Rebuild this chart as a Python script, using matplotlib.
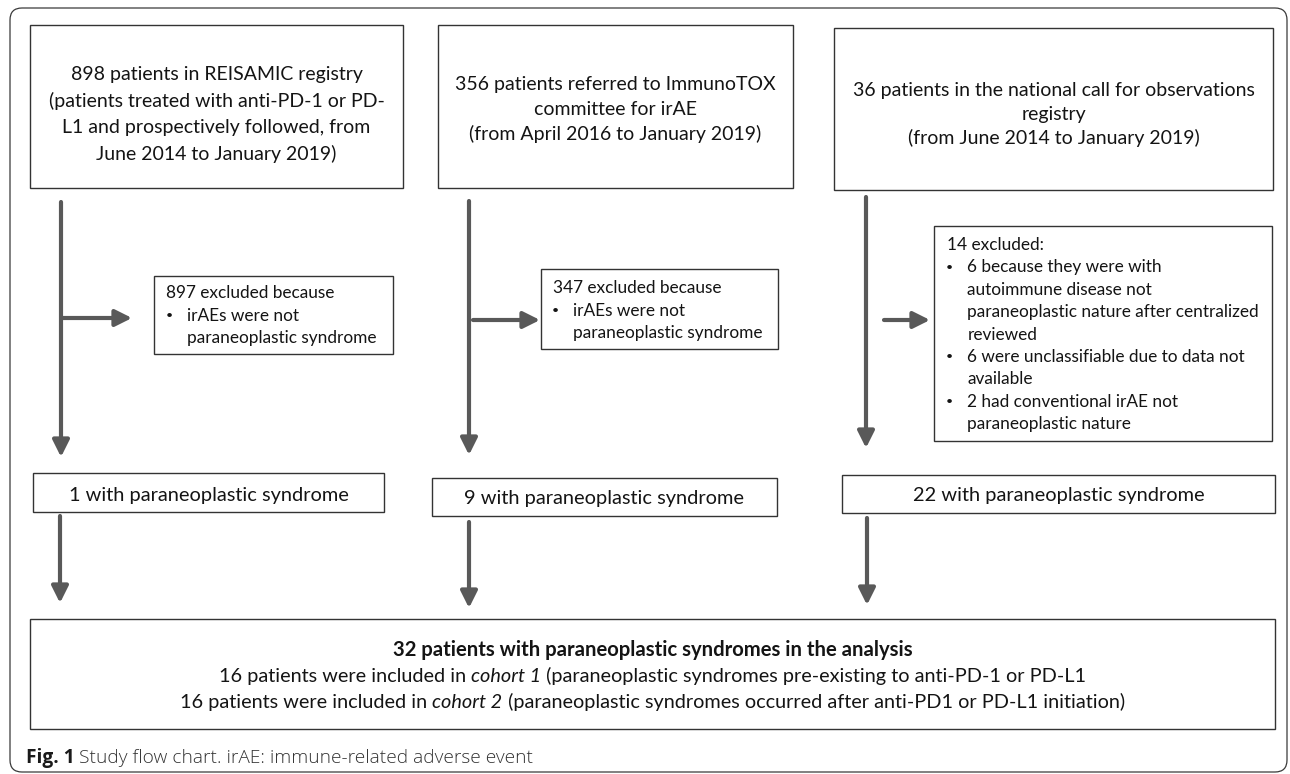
import matplotlib
matplotlib.use("Agg")
import matplotlib.pyplot as plt
from matplotlib.patches import Rectangle, FancyBboxPatch

# ---------------- content ----------------
source_texts = [
    ["898 patients in REISAMIC registry",
     "(patients treated with anti-PD-1 or PD-",
     "L1 and prospectively followed, from",
     "June 2014 to January 2019)"],
    ["356 patients referred to ImmunoTOX",
     "committee for irAE",
     "(from April 2016 to January 2019)"],
    ["36 patients in the national call for observations",
     "registry",
     "(from June 2014 to January 2019)"],
]
excluded_headers = ["897 excluded because", "347 excluded because", "14 excluded:"]
excluded_items = [
    [["irAEs were not", "paraneoplastic syndrome"]],
    [["irAEs were not", "paraneoplastic syndrome"]],
    [["6 because they were with", "autoimmune disease not",
      "paraneoplastic nature after centralized", "reviewed"],
     ["6 were unclassifiable due to data not", "available"],
     ["2 had conventional irAE not", "paraneoplastic nature"]],
]
retained_counts = [1, 9, 22]
retained_label = "with paraneoplastic syndrome"
total_title = "32 patients with paraneoplastic syndromes in the analysis"
cohort_lines = [
    [("16 patients were included in ", "normal"), ("cohort 1", "italic"),
     (" (paraneoplastic syndromes pre-existing to anti-PD-1 or PD-L1", "normal")],
    [("16 patients were included in ", "normal"), ("cohort 2", "italic"),
     (" (paraneoplastic syndromes occurred after anti-PD1 or PD-L1 initiation)", "normal")],
]
caption_bold = "Fig. 1"
caption_text = "Study flow chart. irAE: immune-related adverse event"

# ---------------- layout (pixel coordinates) ----------------
W, H = 1290, 774
frame = (10, 8, 1287, 772)
src_boxes = [(30, 25, 403, 188), (438, 25, 793, 188), (834, 28, 1273, 190)]
src_baselines = [[80, 106.7, 133.3, 160], [90, 115, 140], [96, 120, 144]]
excl_boxes = [(154, 276, 393, 354), (541, 269, 778, 349), (934, 226, 1272, 441)]
excl_first_baseline = [298.3, 293.3, 250]
excl_step = 22.4
excl_x = [(166, 169.5, 186.7), (552.7, 555.5, 573.3), (946.7, 949.5, 967.3)]
mid_boxes = [(33, 473, 384, 512), (432, 478, 777, 516), (842, 475, 1275, 513)]
mid_baselines = [500.7, 504.3, 501]
bottom_box = (30, 619, 1275, 729)
bottom_baselines = [656, 681.7, 707.7]
caption_pos = (26, 762.7)
vert_arrows = [(61, 202, 457), (469, 201, 455), (866, 197, 448)]
horz_arrows = [(318, 63, 132), (320, 473, 540), (320, 884, 930)]
down_arrows = [(60, 516, 603), (469, 522, 608), (867, 518, 605)]

FONT = "Lato"
CAPFONT = "Open Sans"
TXT = "#141414"
EDGE = "#333333"
ARROW = "#595959"

fig = plt.figure(figsize=(W / 100, H / 100), dpi=100)
fig.patch.set_facecolor("white")
ax = fig.add_axes([0, 0, 1, 1])
ax.set_xlim(0, W)
ax.set_ylim(H, 0)
ax.axis("off")
renderer = fig.canvas.get_renderer()


def text_width(s, size=10, **kw):
    t = ax.text(0, 0, s, fontsize=size, **kw)
    w = t.get_window_extent(renderer).width
    t.remove()
    return w


def fit(s, target, **kw):
    return 10 * target / text_width(s, 10, **kw)


fs_src = fit("898 patients in REISAMIC registry", 291.7, family=FONT)
fs_mid = fit("1 with paraneoplastic syndrome", 281, family=FONT)
fs_exc = fit("paraneoplastic syndrome", 190, family=FONT)
fs_bot = fit("(paraneoplastic syndromes occurred after anti-PD1 or PD-L1 initiation)", 619, family=FONT)
fs_bold = fit(total_title, 518.4, family=FONT, fontweight="bold")
fs_cap = fit(caption_text, 453, family=CAPFONT, fontweight="light")


def box(b, lw=1.0):
    x0, y0, x1, y1 = b
    ax.add_patch(Rectangle((x0, y0), x1 - x0, y1 - y0, fill=False,
                           edgecolor=EDGE, linewidth=lw))


def arrow(x0, y0, x1, y1):
    ax.annotate("", xy=(x1, y1), xytext=(x0, y0),
                arrowprops=dict(arrowstyle="-|>,head_length=1.0,head_width=0.5",
                                color=ARROW, lw=3.0, shrinkA=0, shrinkB=0,
                                mutation_scale=10))


# outer frame
fx0, fy0, fx1, fy1 = frame
ax.add_patch(FancyBboxPatch((fx0, fy0), fx1 - fx0, fy1 - fy0,
                            boxstyle="round,pad=0,rounding_size=12",
                            fill=False, edgecolor="#3a3a3a", linewidth=0.9))

# source boxes
for b, lines, bls in zip(src_boxes, source_texts, src_baselines):
    box(b)
    cx = (b[0] + b[2]) / 2
    for line, y in zip(lines, bls):
        ax.text(cx, y, line, ha="center", va="baseline", family=FONT,
                fontsize=fs_src, color=TXT)

# exclusion boxes
for b, head, items, y0, (xh, xb, xt) in zip(excl_boxes, excluded_headers,
                                            excluded_items, excl_first_baseline, excl_x):
    box(b)
    ax.text(xh, y0, head, ha="left", va="baseline", family=FONT,
            fontsize=fs_exc, color=TXT)
    k = 1
    for item in items:
        for j, line in enumerate(item):
            y = y0 + k * excl_step
            if j == 0:
                ax.text(xb, y - 1.5, "\u2022", ha="center", va="baseline",
                        family=FONT, fontsize=fs_exc * 0.72, color=TXT)
            ax.text(xt, y, line, ha="left", va="baseline", family=FONT,
                    fontsize=fs_exc, color=TXT)
            k += 1

# retained boxes
for b, n, y in zip(mid_boxes, retained_counts, mid_baselines):
    box(b)
    ax.text((b[0] + b[2]) / 2, y, f"{n} {retained_label}", ha="center",
            va="baseline", family=FONT, fontsize=fs_mid, color=TXT)

# bottom box
box(bottom_box)
bcx = (bottom_box[0] + bottom_box[2]) / 2
ax.text(bcx, bottom_baselines[0], total_title, ha="center", va="baseline",
        family=FONT, fontsize=fs_bold, fontweight="bold", color=TXT)
for parts, y in zip(cohort_lines, bottom_baselines[1:]):
    widths = [text_width(s, fs_bot, family=FONT, style=st) for s, st in parts]
    x = bcx - sum(widths) / 2
    for (s, st), w in zip(parts, widths):
        ax.text(x, y, s, ha="left", va="baseline", family=FONT, style=st,
                fontsize=fs_bot, color=TXT)
        x += w

# arrows
for x, ya, yb in vert_arrows:
    arrow(x, ya, x, yb)
for y, xa, xb in horz_arrows:
    arrow(xa, y, xb, y)
for x, ya, yb in down_arrows:
    arrow(x, ya, x, yb)

# caption
cx0, cy0 = caption_pos
t = ax.text(cx0, cy0, caption_bold, ha="left", va="baseline", family=CAPFONT,
            fontweight="bold", fontsize=fs_cap, color="#1a1a1a")
wb = t.get_window_extent(renderer).width
ax.text(cx0 + wb + 0.3 * fs_cap, cy0, caption_text, ha="left", va="baseline",
        family=CAPFONT, fontweight="light", fontsize=fs_cap, color="#333333")

fig.savefig("out.png", dpi=100, facecolor="white")
